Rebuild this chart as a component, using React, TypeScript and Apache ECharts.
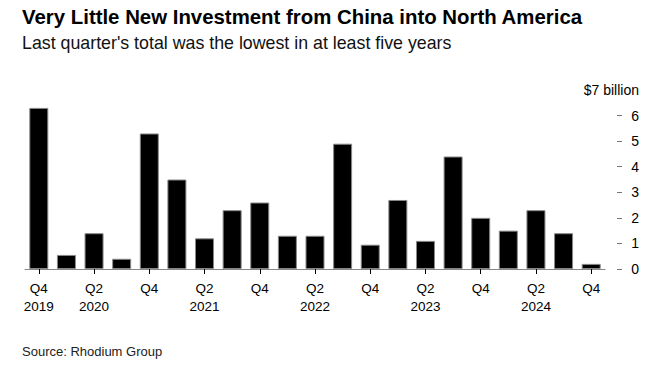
import React, { useEffect, useRef } from "react";
import * as echarts from "echarts";

const categories = [
  "Q4 2019", "Q1 2020", "Q2 2020", "Q3 2020", "Q4 2020",
  "Q1 2021", "Q2 2021", "Q3 2021", "Q4 2021",
  "Q1 2022", "Q2 2022", "Q3 2022", "Q4 2022",
  "Q1 2023", "Q2 2023", "Q3 2023", "Q4 2023",
  "Q1 2024", "Q2 2024", "Q3 2024", "Q4 2024",
];
const values = [
  6.3, 0.55, 1.4, 0.4, 5.3,
  3.5, 1.2, 2.3, 2.6,
  1.3, 1.3, 4.9, 0.95,
  2.7, 1.1, 4.4, 2.0,
  1.5, 2.3, 1.4, 0.2,
];
const yTickLabels = ["0", "1", "2", "3", "4", "5", "6", "$7 billion"];
const yTickValues = [0, 1, 2, 3, 4, 5, 6];

const FONT = "'Liberation Sans', Arial, sans-serif";

export default function App() {
  const ref = useRef<HTMLDivElement>(null);
  useEffect(() => {
    if (!ref.current) return;
    const chart = echarts.init(ref.current, undefined, { renderer: "svg" });
    chart.setOption({
      animation: false,
      backgroundColor: "#fff",
      textStyle: { fontFamily: FONT },
      graphic: [
        { type: "text", left: 22, top: 7, style: { text: "Very Little New Investment from China into North America", font: `bold 20.4px ${FONT}`, fill: "#000" } },
        { type: "text", left: 22, top: 34, style: { text: "Last quarter's total was the lowest in at least five years", font: `17.8px ${FONT}`, fill: "#111" } },
        { type: "text", left: 22, top: 345, style: { text: "Source: Rhodium Group", font: `13px ${FONT}`, fill: "#222" } },
      ],
      grid: { left: 25, right: 62, top: 90, bottom: 104, containLabel: false },
      xAxis: {
        type: "category",
        data: categories,
        axisLine: { show: true, lineStyle: { color: "#888", width: 1 } },
        axisTick: { show: true, interval: 1, alignWithLabel: true, length: 5, lineStyle: { color: "#000" } },
        axisLabel: {
          interval: 1,
          margin: 10,
          color: "#000",
          fontSize: 13.5,
          lineHeight: 18,
          fontFamily: FONT,
          formatter: (v: string, i: number) => {
            const [q, y] = v.split(" ");
            if (i === 0 || q === "Q2") return `${q}\n${y}`;
            return q;
          },
        },
      },
      yAxis: {
        type: "value",
        position: "right",
        offset: 12,
        min: 0,
        max: 7,
        interval: 1,
        splitLine: { show: false },
        axisLine: { show: false },
        axisTick: { show: true, length: 5, customValues: yTickValues, lineStyle: { color: "#777" } },
        axisLabel: {
          align: "right",
          margin: 22,
          color: "#000",
          fontSize: 14,
          fontFamily: FONT,
          formatter: (v: number) => yTickLabels[Math.round(v)] ?? String(v),
        },
      },
      series: [
        {
          type: "bar",
          data: values,
          barWidth: 19,
          itemStyle: { color: "#000", borderColor: "#888", borderWidth: 1 },
        },
      ],
    });
    return () => chart.dispose();
  }, []);
  return <div ref={ref} style={{ width: 667, height: 373, margin: -8 }} />;
}
